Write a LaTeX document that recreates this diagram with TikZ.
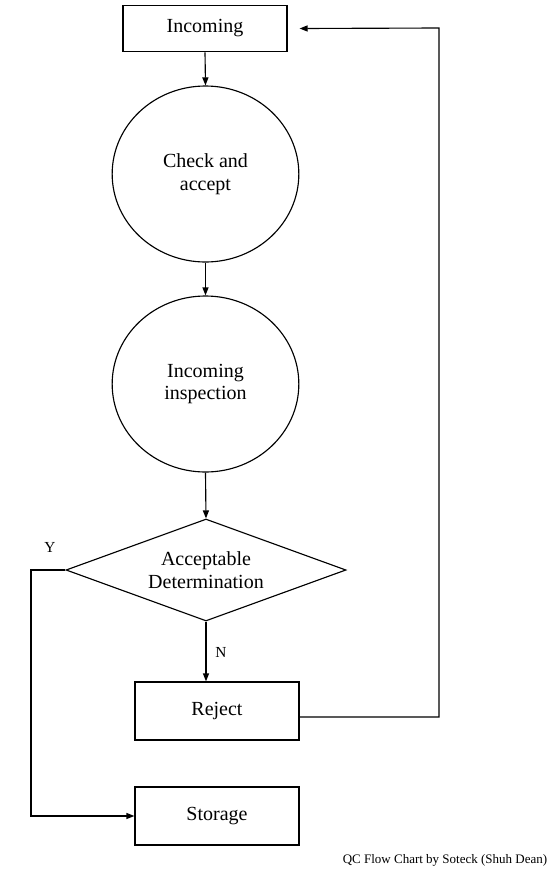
\documentclass[tikz,border=0pt]{standalone}
\usepackage{fontspec}
\setmainfont{Liberation Serif}
\usetikzlibrary{shapes.geometric,arrows.meta}
\begin{document}
\begin{tikzpicture}[x=0.75pt,y=-0.75pt,
  line width=0.85pt,
  box/.style={draw,rectangle,minimum width=123pt,minimum height=#1,inner sep=0pt,font=\fontsize{15}{17}\selectfont},
  oval/.style={draw,ellipse,minimum width=140pt,minimum height=132pt,inner sep=0pt,align=center,font=\fontsize{15}{17}\selectfont},
  decision/.style={draw,diamond,minimum width=210pt,minimum height=76.5pt,inner sep=0pt,aspect=2.75,align=center,font=\fontsize{15}{17}\selectfont},
  lab/.style={font=\fontsize{11.5}{13}\selectfont},
  arr/.style={-{Triangle[length=6pt,width=4.5pt]}}]
\useasboundingbox (0,0) rectangle (550,872);
\node[box=35pt] (inc) at (205,28.5) {Incoming};
\node[oval] (chk) at (205.5,174) {Check and\\accept};
\node[oval] (insp) at (205.5,384) {Incoming\\inspection};
\node[decision] (dia) at (206,570) {Acceptable\\Determination};
\node[box=43.5pt] (rej) at (217,711) {Reject};
\node[box=43.5pt] (sto) at (217,816) {Storage};
\coordinate (fb) at (439,28);
\coordinate (yc) at (31,570);
\node[lab] (ylab) at (50,547) {Y};
\node[lab] (nlab) at (221,652) {N};
\node[font=\fontsize{9.75}{11}\selectfont] (cap) at (445,860) {QC Flow Chart by Soteck (Shuh Dean)};
\draw[arr] (inc.south) -- (chk.north);
\draw[arr] (chk.south) -- (insp.north);
\draw[arr] (insp.south) -- (dia.north);
\draw[arr] (dia.south) -- (dia.south |- rej.north);
\draw[arr] ([yshift=-4.5pt]rej.east) -| (fb) -- ([xshift=9pt]inc.east);
\draw[arr] (dia.west) -- (yc) |- (sto.west);
\end{tikzpicture}
\end{document}
